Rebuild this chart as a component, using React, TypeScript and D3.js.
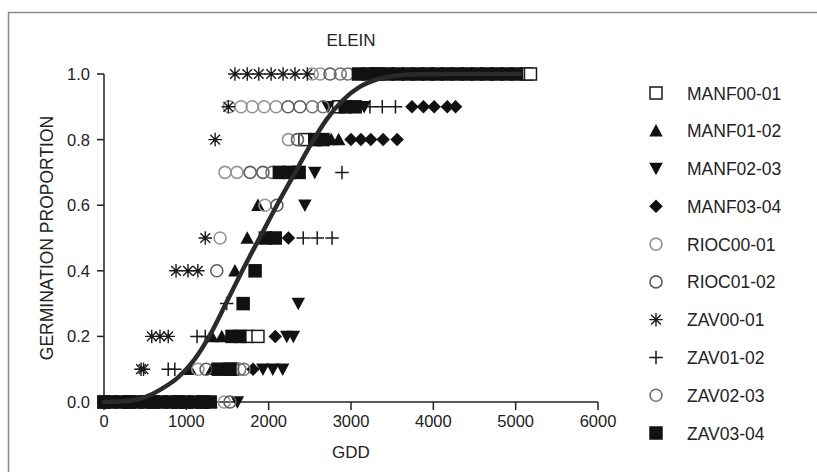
import React from 'react';
import * as d3 from 'd3';

type Pt = [number, number];

const seriesNames = [
  'MANF00-01', 'MANF01-02', 'MANF02-03', 'MANF03-04', 'RIOC00-01',
  'RIOC01-02', 'ZAV00-01', 'ZAV01-02', 'ZAV02-03', 'ZAV03-04',
];
const seriesShapes = [
  'square', 'triUp', 'triDown', 'diamond', 'circleLight',
  'circleDark', 'asterisk', 'plus', 'circleMid', 'squareFill',
];

// [GDD, germination proportion]
const manf0001: Pt[] = [
  [0, 0], [300, 0], [600, 0], [900, 0], [1200, 0],
  [1560, 0.1], [1740, 0.2], [1870, 0.2], [2440, 0.8], [2850, 0.9],
  [3300, 1], [5130, 1], [5180, 1],
];
const manf0102: Pt[] = [
  [100, 0], [400, 0], [700, 0], [1000, 0], [1300, 0],
  [1045, 0.1], [1310, 0.1], [1310, 0.2], [1430, 0.2], [1590, 0.4],
  [1740, 0.5], [1870, 0.6], [2760, 0.8], [2850, 0.8], [3100, 1], [3400, 1],
];
const manf0203: Pt[] = [
  [200, 0], [500, 0], [800, 0], [1100, 0], [1620, 0],
  [1930, 0.1], [2050, 0.1], [2170, 0.1], [2220, 0.2], [2300, 0.2],
  [2360, 0.3], [2440, 0.6], [2560, 0.7], [2720, 0.9], [3160, 0.9],
  [3500, 1], [3800, 1],
];
const manf0304: Pt[] = [
  [250, 0], [650, 0], [1050, 0],
  [1810, 0.1], [2080, 0.2], [2240, 0.5],
  [3000, 0.8], [3120, 0.8], [3240, 0.8], [3390, 0.8], [3560, 0.8],
  [3740, 0.9], [3880, 0.9], [4010, 0.9], [4170, 0.9], [4270, 0.9],
  [4400, 1], [4700, 1],
];
const rioc0001: Pt[] = [
  [1460, 0], [1140, 0.1], [1410, 0.5], [1955, 0.6], [1470, 0.7], [1615, 0.7],
  [2240, 0.8], [1520, 0.9], [1665, 0.9], [1800, 0.9], [1945, 0.9], [2090, 0.9],
  [2530, 1], [2625, 1],
];
const rioc0102: Pt[] = [
  [1530, 0], [1240, 0.1], [1370, 0.4], [2100, 0.6], [1775, 0.7], [1930, 0.7],
  [2350, 0.8], [2235, 0.9], [2380, 0.9], [2745, 1],
];
const zav0001: Pt[] = [
  [0, 0], [150, 0], [300, 0],
  [450, 0.1], [480, 0.1], [580, 0.2], [680, 0.2], [780, 0.2],
  [875, 0.4], [1020, 0.4], [1140, 0.4], [1230, 0.5], [1350, 0.8], [1510, 0.9],
  [1590, 1], [1740, 1], [1880, 1], [2030, 1], [2175, 1], [2320, 1], [2470, 1],
];
const zav0102: Pt[] = [
  [350, 0], [750, 0], [1150, 0],
  [780, 0.1], [860, 0.1], [1130, 0.2], [1230, 0.2], [1490, 0.3],
  [2420, 0.5], [2590, 0.5], [2770, 0.5], [2890, 0.7],
  [3230, 0.9], [3380, 0.9], [3540, 0.9], [4000, 1],
];
const zav0203: Pt[] = [
  [1650, 0.1], [1700, 0.1], [2040, 0.7], [2530, 0.9], [2660, 0.9],
  [2870, 1], [2960, 1],
];
const zav0304: Pt[] = [
  [0, 0], [100, 0], [200, 0], [300, 0], [400, 0], [500, 0], [600, 0],
  [700, 0], [800, 0], [900, 0], [1000, 0], [1100, 0], [1200, 0], [1290, 0],
  [1390, 0.1], [1530, 0.1], [1555, 0.2], [1650, 0.2], [1690, 0.3], [1835, 0.4],
  [1960, 0.5], [2080, 0.5], [2130, 0.7], [2250, 0.7], [2370, 0.7],
  [2560, 0.8], [2660, 0.8], [2930, 0.9], [3050, 0.9],
  [3090, 1], [3210, 1], [3330, 1], [3450, 1], [3570, 1], [3690, 1], [3810, 1],
  [3930, 1], [4050, 1], [4170, 1], [4290, 1], [4410, 1], [4530, 1], [4650, 1],
  [4770, 1], [4890, 1], [5010, 1],
];
const seriesData = [
  manf0001, manf0102, manf0203, manf0304, rioc0001,
  rioc0102, zav0001, zav0102, zav0203, zav0304,
];

// fitted curve
const fitCurve: Pt[] = [
  [0, 0], [300, 0.003], [500, 0.015], [700, 0.04], [900, 0.075], [1100, 0.13],
  [1300, 0.21], [1500, 0.31], [1700, 0.41], [1900, 0.505], [2100, 0.6],
  [2300, 0.69], [2500, 0.78], [2700, 0.86], [2900, 0.92], [3100, 0.96],
  [3300, 0.982], [3500, 0.993], [3800, 0.999], [4200, 1], [5050, 1],
];

const xTicks = [0, 1000, 2000, 3000, 4000, 5000, 6000];
const yTicks = [0, 0.2, 0.4, 0.6, 0.8, 1.0];

const font = '"Liberation Sans", Arial, sans-serif';
const S = 13.5;

function Marker({ shape, x, y }: { shape: string; x: number; y: number }) {
  const h = S / 2;
  switch (shape) {
    case 'square':
      return <rect x={x - h + 0.75} y={y - h + 0.75} width={S - 1.5} height={S - 1.5} fill="#fff" stroke="#1a1a1a" strokeWidth={1.5} />;
    case 'squareFill':
      return <rect x={x - h} y={y - h} width={S} height={S} fill="#111" />;
    case 'triUp':
      return <path d={`M${x},${y - h}L${x + h},${y + h - 1}L${x - h},${y + h - 1}Z`} fill="#111" />;
    case 'triDown':
      return <path d={`M${x - h},${y - h + 1}L${x + h},${y - h + 1}L${x},${y + h}Z`} fill="#111" />;
    case 'diamond':
      return <path d={`M${x},${y - h}L${x + h},${y}L${x},${y + h}L${x - h},${y}Z`} fill="#111" />;
    case 'circleLight':
      return <circle cx={x} cy={y} r={h - 0.75} fill="none" stroke="#959595" strokeWidth={1.6} />;
    case 'circleDark':
      return <circle cx={x} cy={y} r={h - 0.75} fill="none" stroke="#5e5e5e" strokeWidth={1.6} />;
    case 'circleMid':
      return <circle cx={x} cy={y} r={h - 0.75} fill="none" stroke="#747474" strokeWidth={1.6} />;
    case 'plus':
      return <path d={`M${x - h},${y}H${x + h}M${x},${y - h}V${y + h}`} stroke="#1a1a1a" strokeWidth={1.5} fill="none" />;
    case 'asterisk': {
      const d = h * 0.72;
      return <path d={`M${x - h},${y}H${x + h}M${x},${y - h}V${y + h}M${x - d},${y - d}L${x + d},${y + d}M${x - d},${y + d}L${x + d},${y - d}`} stroke="#1a1a1a" strokeWidth={1.4} fill="none" />;
    }
    default:
      return null;
  }
}

export default function App() {
  const x = d3.scaleLinear().domain([0, 6000]).range([104, 598]);
  const y = d3.scaleLinear().domain([0, 1]).range([402, 74]);
  const line = d3.line<Pt>().x(d => x(d[0])).y(d => y(d[1])).curve(d3.curveMonotoneX);
  const legendY = d3.scaleLinear().domain([0, 9]).range([93, 433]);

  return (
    <svg width={817} height={472} style={{ position: 'absolute', left: 0, top: 0, background: '#fff' }} fontFamily={font}>
      <rect x={8.5} y={12.5} width={1000} height={1000} fill="none" stroke="#8a8a8a" strokeWidth={1.5} />
      <text x={351} y={46} textAnchor="middle" fontSize={17} fill="#222">ELEIN</text>

      {/* axes */}
      <line x1={x(0)} x2={x(0)} y1={y(1)} y2={y(0)} stroke="#222" strokeWidth={1.5} />
      <line x1={x(0)} x2={x(6000)} y1={y(0)} y2={y(0)} stroke="#222" strokeWidth={1.5} />
      {yTicks.map(t => (
        <g key={'y' + t}>
          <line x1={x(0) - 7} x2={x(0)} y1={y(t)} y2={y(t)} stroke="#222" strokeWidth={1.5} />
          <text x={x(0) - 14} y={y(t) + 6} textAnchor="end" fontSize={16.5} fill="#222">{d3.format('.1f')(t)}</text>
        </g>
      ))}
      {xTicks.map(t => (
        <g key={'x' + t}>
          <line x1={x(t)} x2={x(t)} y1={y(0)} y2={y(0) + 8} stroke="#222" strokeWidth={1.5} />
          <text x={x(t)} y={427} textAnchor="middle" fontSize={16.5} fill="#222">{t}</text>
        </g>
      ))}
      <text x={351} y={458} textAnchor="middle" fontSize={17} fill="#222">GDD</text>
      <text transform={`translate(53,238) rotate(-90)`} textAnchor="middle" fontSize={17.5} fill="#222">GERMINATION PROPORTION</text>

      {/* points */}
      {seriesData.map((pts, i) => (
        <g key={seriesNames[i]}>
          {pts.map((p, j) => <Marker key={j} shape={seriesShapes[i]} x={x(p[0])} y={y(p[1])} />)}
        </g>
      ))}

      <path d={line(fitCurve) || ''} fill="none" stroke="#2b2b2b" strokeWidth={4.5} strokeLinecap="round" />

      {/* legend */}
      {seriesNames.map((n, i) => (
        <g key={'l' + n}>
          <Marker shape={seriesShapes[i]} x={656} y={legendY(i)} />
          <text x={687} y={legendY(i) + 6.5} fontSize={17.5} fill="#222">{n}</text>
        </g>
      ))}
    </svg>
  );
}
